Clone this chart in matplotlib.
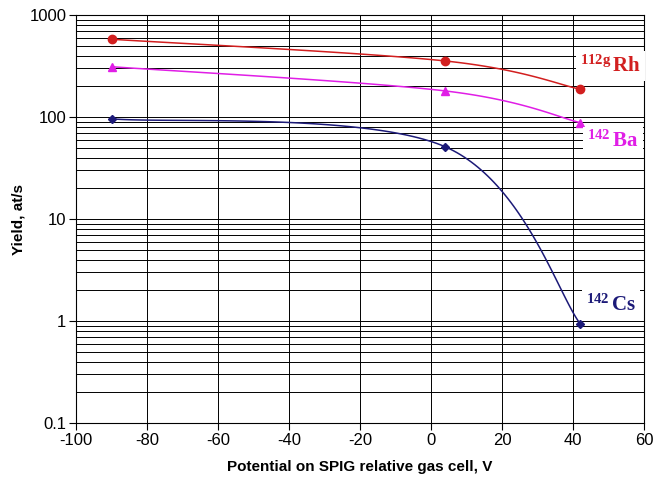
import matplotlib
matplotlib.use("Agg")
import matplotlib.pyplot as plt
import numpy as np
from matplotlib.ticker import LogLocator, FixedLocator, FuncFormatter

plt.rcParams['font.family'] = ['Liberation Sans', 'DejaVu Sans']
plt.rcParams['axes.unicode_minus'] = False
plt.rcParams['mathtext.fontset'] = 'custom'
plt.rcParams['mathtext.rm'] = 'Liberation Serif:bold'
plt.rcParams['mathtext.it'] = 'Liberation Serif:bold'
plt.rcParams['mathtext.bf'] = 'Liberation Serif:bold'

# data
potential = [-90, 4, 42]
rh112g = [578, 354, 187]
ba142 = [311, 180, 88]
cs142 = [96, 51, 0.94]

xticks = [-100, -80, -60, -40, -20, 0, 20, 40, 60]
yticks = [0.1, 1, 10, 100, 1000]


def smooth(x, y, n=60):
    # Excel style smoothed line: Catmull-Rom beziers in (x, log y)
    p = np.column_stack([np.asarray(x, float), np.log10(y)])
    m = len(p)
    xs, ys = [], []
    for i in range(m - 1):
        p0 = p[max(i - 1, 0)]
        p1 = p[i]
        p2 = p[i + 1]
        p3 = p[min(i + 2, m - 1)]
        c1 = p1 + (p2 - p0) / 6
        c2 = p2 - (p3 - p1) / 6
        t = np.linspace(0, 1, n)[:, None]
        b = (1 - t)**3 * p1 + 3 * (1 - t)**2 * t * c1 + 3 * (1 - t) * t**2 * c2 + t**3 * p2
        xs.append(b[:, 0])
        ys.append(b[:, 1])
    return np.concatenate(xs), 10**np.concatenate(ys)


fig = plt.figure(figsize=(6.56, 4.82), dpi=100)
ax = fig.add_axes([0.116, 0.122, 0.866, 0.847])
ax.set_yscale('log')
ax.set_xlim(-100, 60)
ax.set_ylim(0.1, 1000)

series = [
    (rh112g, '#d21f1f', 'o', 6),
    (ba142, '#e01ee6', '^', 6),
    (cs142, '#1c1a78', 'D', 4),
]
for vals, col, mk, ms in series:
    sx, sy = smooth(potential, vals)
    ax.plot(sx, sy, color=col, lw=1.1, zorder=3)
    ax.plot(potential, vals, linestyle='none', marker=mk, color=col, ms=ms, zorder=4)

ax.xaxis.set_major_locator(FixedLocator(xticks))
ax.yaxis.set_major_locator(FixedLocator(yticks))
ax.yaxis.set_minor_locator(LogLocator(base=10, subs=np.arange(2, 10)))
ax.yaxis.set_major_formatter(FuncFormatter(lambda v, p: '%g' % v))
ax.yaxis.set_minor_formatter(FuncFormatter(lambda v, p: ''))
ax.grid(True, which='major', axis='x', color='black', lw=0.7)
ax.grid(True, which='both', axis='y', color='black', lw=0.7)
ax.set_axisbelow(True)
ax.tick_params(axis='both', which='major', labelsize=12, length=5, width=0.8, direction='out', pad=2)
ax.tick_params(axis='y', which='minor', length=0)
for s in ax.spines.values():
    s.set_linewidth(0.8)

ax.set_xlabel('Potential on SPIG relative gas cell, V', fontsize=11, fontweight='bold', labelpad=9)
ax.set_ylabel('Yield, at/s', fontsize=11, fontweight='bold', labelpad=3)

box = dict(facecolor='white', edgecolor='none', pad=3)
ax.text(0.887, 0.875, r'$^{112g}\,$Rh', transform=ax.transAxes, fontsize=15, color='#d21f1f',
        family='Liberation Serif', fontweight='bold', ha='left', va='center', bbox=box, zorder=5)
ax.text(0.90, 0.69, r'$^{142}\,$Ba', transform=ax.transAxes, fontsize=15, color='#e01ee6',
        family='Liberation Serif', fontweight='bold', ha='left', va='center', bbox=box, zorder=5,
        clip_on=False)
ax.text(0.897, 0.29, r'$^{142}\,$Cs', transform=ax.transAxes, fontsize=15, color='#1c1a78',
        family='Liberation Serif', fontweight='bold', ha='left', va='center', bbox=box, zorder=5)

fig.savefig('out.png', dpi=100)
